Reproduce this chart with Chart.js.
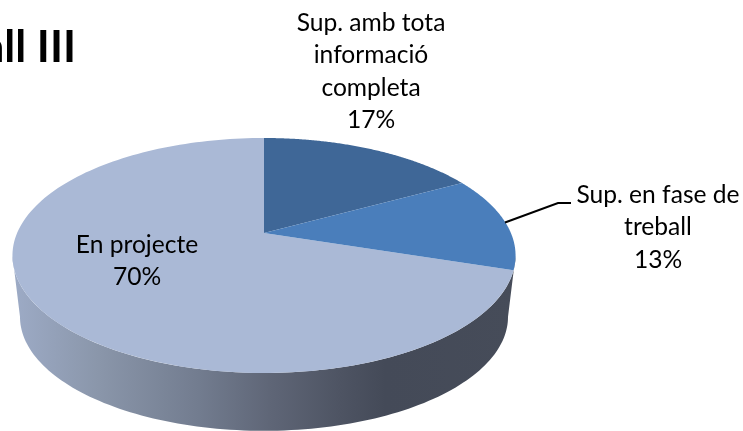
<!DOCTYPE html>
<html>
<head>
<meta charset="utf-8">
<script src="https://cdn.jsdelivr.net/npm/chart.js@4"></script>
<style>
html, body { margin: 0; padding: 0; background: #fff; }
canvas { display: block; }
</style>
</head>
<body>
<canvas id="pie" width="743" height="431"></canvas>
<script>
const categories = ['Sup. amb tota informació completa', 'Sup. en fase de treball', 'En projecte'];
const values = [17, 13, 70];
const sliceColors = ['#3F6797', '#4A7EBB', '#AAB9D6'];

const labelLines = [
    ['Sup. amb tota', 'informació', 'completa'],
    ['Sup. en fase de', 'treball'],
    ['En projecte']
];
const labelCenters = [[371, 31], [658, 203], [137, 253]];
const labelFont = '24.6px Lato, Carlito, sans-serif';
const lineStep = 32.3;

// tilted disc: same perspective for the top face and the lower rim
const tilt = -0.1915;
const stretchX = 246.9 / 198;
const stretchY = 113.2 / 198;
const depth = 62;
const rimScale = 0.97;

function project(arc, angle, scale, dy) {
    const x = Math.cos(angle), y = Math.sin(angle);
    const w = 1 + tilt * y;
    return [
        arc.x + arc.outerRadius * stretchX * scale * x / w,
        arc.y + dy + arc.outerRadius * stretchY * scale * y / w
    ];
}

function sideWall(ctx, arc) {
    // widest point of the projected circle sits a little below the apex
    const off = Math.asin(-tilt);
    const from = off, to = Math.PI - off;
    const grad = ctx.createLinearGradient(13, 0, 516, 0);
    grad.addColorStop(0, '#9DABC6');
    grad.addColorStop(0.17, '#8A96AA');
    grad.addColorStop(0.37, '#727C8F');
    grad.addColorStop(0.51, '#5F6677');
    grad.addColorStop(0.65, '#4E5463');
    grad.addColorStop(0.74, '#444A58');
    grad.addColorStop(1, '#464C59');
    ctx.beginPath();
    for (let i = 0; i <= 120; i++) {
        const p = project(arc, from + (to - from) * i / 120, rimScale, depth);
        i ? ctx.lineTo(p[0], p[1]) : ctx.moveTo(p[0], p[1]);
    }
    for (let i = 120; i >= 0; i--) {
        const p = project(arc, from + (to - from) * i / 120, 1, 0);
        ctx.lineTo(p[0], p[1]);
    }
    ctx.closePath();
    ctx.fillStyle = grad;
    ctx.fill();
}

function topSlice(ctx, arc) {
    const steps = 160;
    ctx.beginPath();
    ctx.moveTo(arc.x, arc.y);
    for (let i = 0; i <= steps; i++) {
        const p = project(arc, arc.startAngle + (arc.endAngle - arc.startAngle) * i / steps, 1, 0);
        ctx.lineTo(p[0], p[1]);
    }
    ctx.closePath();
    ctx.fillStyle = arc.options.backgroundColor;
    ctx.fill();
}

const tiltedPie = {
    id: 'tiltedPie',
    beforeDatasetsDraw(chart) {
        const ctx = chart.ctx;
        const arcs = chart.getDatasetMeta(0).data;
        ctx.save();
        sideWall(ctx, arcs[0]);
        // big slice first so the blue ones sit on top of its edge
        [2, 0, 1].forEach(i => topSlice(ctx, arcs[i]));
        ctx.restore();
        return false;
    },
    afterDraw(chart) {
        const ctx = chart.ctx;
        ctx.save();

        ctx.strokeStyle = '#000';
        ctx.lineWidth = 2;
        ctx.beginPath();
        ctx.moveTo(505, 222.5);
        ctx.lineTo(558, 203);
        ctx.lineTo(571, 203);
        ctx.stroke();

        ctx.fillStyle = '#000';
        ctx.textAlign = 'center';
        ctx.textBaseline = 'alphabetic';
        ctx.font = labelFont;
        categories.forEach((c, i) => {
            const lines = labelLines[i].concat(values[i] + '%');
            const pos = labelCenters[i];
            lines.forEach((l, n) => ctx.fillText(l, pos[0], pos[1] + n * lineStep));
        });

        ctx.textAlign = 'right';
        ctx.font = 'bold 44px Lato, Carlito, sans-serif';
        ctx.fillText('Treball III', 76, 62);
        ctx.restore();
    }
};

new Chart(document.getElementById('pie'), {
    type: 'pie',
    data: {
        labels: categories,
        datasets: [{ data: values, backgroundColor: sliceColors, borderWidth: 0 }]
    },
    options: {
        responsive: false,
        animation: false,
        layout: { padding: { top: 35, right: 215 } },
        plugins: { legend: { display: false }, tooltip: { enabled: false } }
    },
    plugins: [tiltedPie]
});
</script>
</body>
</html>
